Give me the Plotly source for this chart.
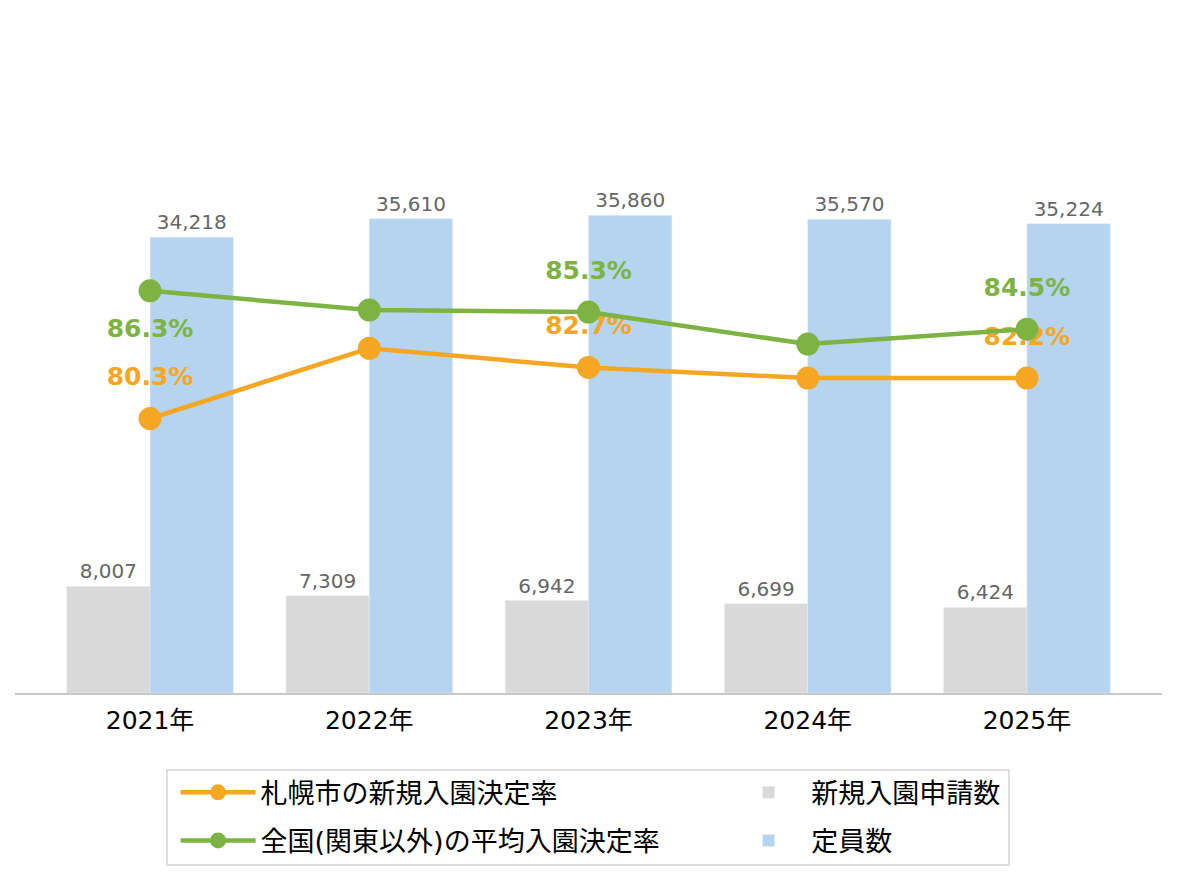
import plotly.graph_objects as go

# data
years = ["2021年", "2022年", "2023年", "2024年", "2025年"]
applications = [8007, 7309, 6942, 6699, 6424]
capacity = [34218, 35610, 35860, 35570, 35224]
sapporo_rate = [80.3, 83.6, 82.7, 82.2, 82.2]
national_rate = [86.3, 85.4, 85.3, 83.8, 84.5]
labelled_years = [0, 2, 4]

FONT = "DejaVu Sans, Noto Sans CJK JP, sans-serif"
ORANGE = "#f5a623"
GREEN = "#7cb342"


# text for the rate lines: only some years get a label
def rateLabels(values, below):
    lstText = []
    lstPos = []
    for i, v in enumerate(values):
        if i in labelled_years:
            lstText.append(format(v, ".1f") + "%")
        else:
            lstText.append("")
        lstPos.append("bottom center" if i in below else "top center")
    return lstText, lstPos


fig = go.Figure()

fig.add_trace(go.Bar(
    x=years, y=applications, name="新規入園申請数",
    marker=dict(color="#d9d9d9"),
    texttemplate="%{y:,}", textposition="outside",
    textfont=dict(family=FONT, size=20, color="#666666"),
    cliponaxis=False, legend="legend2", legendgroup="a",
))
fig.add_trace(go.Bar(
    x=years, y=capacity, name="定員数",
    marker=dict(color="#b4d4ef"),
    texttemplate="%{y:,}", textposition="outside",
    textfont=dict(family=FONT, size=20, color="#666666"),
    cliponaxis=False, legend="legend2", legendgroup="b",
))

# each line, then its labels (invisible big markers push the text away from the point)
for vals, colour, name, below, grp in [
    (sapporo_rate, ORANGE, "札幌市の新規入園決定率", [], "c"),
    (national_rate, GREEN, "全国(関東以外)の平均入園決定率", [0], "d"),
]:
    fig.add_trace(go.Scatter(
        x=years, y=vals, name=name, yaxis="y2", mode="lines+markers",
        line=dict(color=colour, width=4.5),
        marker=dict(size=23, color=colour),
        cliponaxis=False, legend="legend", legendgroup=grp,
    ))
    txt, pos = rateLabels(vals, below)
    fig.add_trace(go.Scatter(
        x=years, y=vals, yaxis="y2", mode="markers+text",
        text=txt, textposition=pos,
        textfont=dict(family=FONT, size=25, color=colour, weight="bold"),
        marker=dict(size=42, opacity=0),
        cliponaxis=False, showlegend=False, hoverinfo="skip",
    ))

legend_font = dict(family=FONT, size=27, color="black")

fig.update_layout(
    width=1177, height=881,
    margin=dict(l=7, r=23, t=19, b=196, autoexpand=False),
    paper_bgcolor="white", plot_bgcolor="white",
    font=dict(family=FONT, size=25, color="black"),
    barmode="group", bargap=0.24, bargroupgap=0,
    showlegend=True,
    legend=dict(
        x=0.14, xanchor="left", y=-0.113, yanchor="top",
        itemwidth=75, tracegroupgap=10, traceorder="grouped",
        bgcolor="rgba(0,0,0,0)", borderwidth=0, font=legend_font,
    ),
    legend2=dict(
        x=0.62, xanchor="left", y=-0.113, yanchor="top",
        itemwidth=75, tracegroupgap=10, traceorder="grouped",
        bgcolor="rgba(0,0,0,0)", borderwidth=0, font=legend_font,
    ),
    xaxis=dict(
        range=[-0.616, 4.616], showline=True, linecolor="#c8c8c8", linewidth=1.5,
        showgrid=False, ticks="", tickfont=dict(size=25), ticklabelstandoff=4,
    ),
    yaxis=dict(range=[0, 50000], visible=False, showgrid=False),
    yaxis2=dict(range=[67.4, 98.7], overlaying="y", visible=False, showgrid=False),
    # frame around the two legend columns
    shapes=[dict(
        type="rect", xref="paper", yref="paper",
        x0=0.1325, x1=0.8666, y0=-0.2583, y1=-0.1156,
        line=dict(color="#d4d4d4", width=1.5), fillcolor="rgba(0,0,0,0)",
    )],
)

fig.write_html("out.html")
